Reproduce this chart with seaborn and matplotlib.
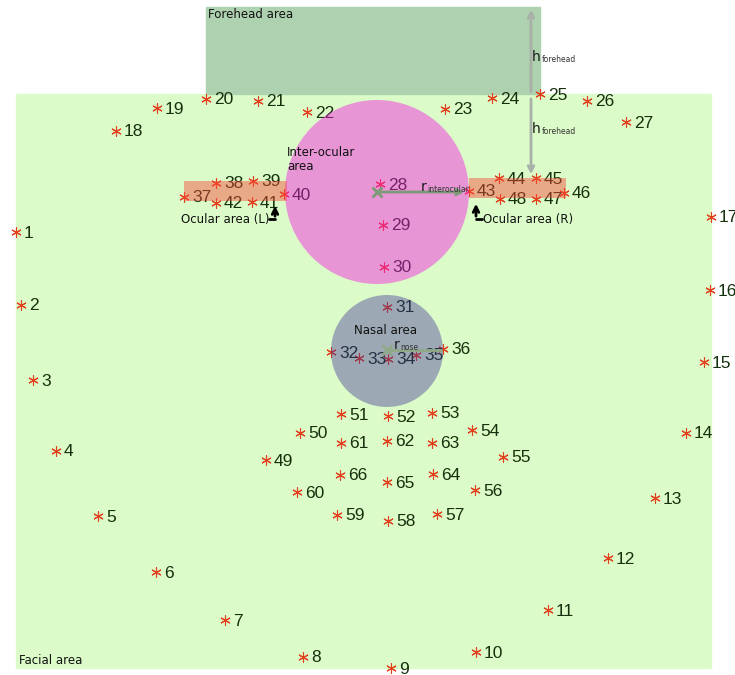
import matplotlib
matplotlib.use("Agg")
import matplotlib.pyplot as plt
from matplotlib.patches import Rectangle, Circle
import seaborn as sns
import pandas as pd

sns.set_style("white")

# landmark positions (image pixels, y down)
landmark_id = list(range(1, 67))
landmark_x = [16, 21, 33, 56, 98, 156, 225, 303, 391, 476, 548, 608, 655, 686, 704, 710, 711,
              116, 157, 206, 258, 307, 445, 492, 540, 587, 626,
              380, 383, 384, 387, 331, 359, 388, 416, 443,
              184, 216, 253, 284, 252, 216, 469, 499, 536, 564, 536, 500,
              266, 300, 341, 388, 432, 472, 503, 475, 437, 388, 337, 297,
              341, 387, 432, 433, 387, 340]
landmark_y = [232, 305, 380, 451, 516, 572, 620, 657, 668, 652, 610, 558, 498, 433, 362, 290, 217,
              131, 108, 99, 101, 112, 109, 98, 94, 101, 122,
              184, 225, 267, 307, 352, 358, 359, 355, 349,
              197, 183, 181, 194, 202, 203, 191, 178, 178, 193, 199, 199,
              460, 433, 414, 416, 413, 430, 457, 490, 514, 521, 515, 492,
              443, 441, 443, 474, 482, 475]

pts = pd.DataFrame({"id": landmark_id, "x": landmark_x, "y": landmark_y})

fig = plt.figure(figsize=(7.35, 6.75), dpi=100)
ax = fig.add_axes([0, 0, 1, 1])

# areas
ax.add_patch(Rectangle((16, 94), 695, 574, color="#dbfcc8", zorder=0))
ax.add_patch(Rectangle((206, 7), 334, 87, color="#aed1b0", zorder=0))

sns.scatterplot(data=pts, x="x", y="y", marker=(6, 2, 0), color="#e2401c",
                s=48, linewidth=0.8, ax=ax, zorder=2, legend=False)
for _, r in pts.iterrows():
    ax.text(r["x"] + 8, r["y"] + 1, str(r["id"]), fontsize=12.5, color="#15300d",
            va="center", ha="left", family=["Liberation Sans", "DejaVu Sans"], zorder=2)

# translucent region overlays
ax.add_patch(Circle((377, 192), 92, color="#fb0ee9", alpha=0.43, lw=0, zorder=3))
ax.add_patch(Circle((387, 351), 56, color="#3f2e97", alpha=0.40, lw=0, zorder=3))
ax.add_patch(Rectangle((184, 181), 103, 20, color="#f94538", alpha=0.45, lw=0, zorder=3))
ax.add_patch(Rectangle((469, 178), 97, 20, color="#f94538", alpha=0.45, lw=0, zorder=3))


def sub_label(x, y, main, sub, dx, size=10, subsize=5.5):
    # main letter plus small subscript, as two texts
    ax.text(x, y, main, fontsize=size, ha="left", va="center", color="#1a1a1a", zorder=5)
    ax.text(x + dx, y + 2, sub, fontsize=subsize, ha="left", va="center",
            color="#333333", zorder=5)


# radius arrows
ax.annotate("", xy=(467, 192), xytext=(377, 192),
            arrowprops=dict(arrowstyle="->", color="#7d9a78", lw=2), zorder=4)
ax.plot(377, 192, marker="x", color="#7d9a78", ms=7, mew=2, zorder=4)
sub_label(421, 187, "r", "interocular", 6)
ax.plot([387, 441], [350, 350], color="#8fa886", lw=2, zorder=4)
ax.plot(387, 350, marker="x", color="#8fa886", ms=7, mew=2, zorder=4)
sub_label(394, 345, "r", "nose", 6)

# forehead height arrows
ax.annotate("", xy=(531, 7), xytext=(531, 94),
            arrowprops=dict(arrowstyle="->", color="#a9b0a8", lw=2), zorder=4)
ax.annotate("", xy=(531, 177), xytext=(531, 96),
            arrowprops=dict(arrowstyle="->", color="#a9b0a8", lw=2), zorder=4)
sub_label(532, 57, "h", "forehead", 9.5)
sub_label(532, 129, "h", "forehead", 9.5)

# ocular bent arrows
ax.annotate("", xy=(275, 203), xytext=(275, 219),
            arrowprops=dict(arrowstyle="->", color="black", lw=2), zorder=4)
ax.plot([269, 275], [219, 219], color="black", lw=2, zorder=4)
ax.annotate("", xy=(476, 201), xytext=(476, 219),
            arrowprops=dict(arrowstyle="->", color="black", lw=2), zorder=4)
ax.plot([476, 482], [219, 219], color="black", lw=2, zorder=4)

# area labels
lab = dict(fontsize=8.5, color="#111111", family="DejaVu Sans", zorder=5)
ax.text(208, 15, "Forehead area", ha="left", va="center", **lab)
ax.text(19, 660, "Facial area", ha="left", va="center", **lab)
ax.text(287, 160, "Inter-ocular\narea", ha="left", va="center", linespacing=1.1, **lab)
ax.text(386, 330, "Nasal area", ha="center", va="center", **lab)
ax.text(181, 220, "Ocular area (L)", ha="left", va="center", **lab)
ax.text(483, 220, "Ocular area (R)", ha="left", va="center", **lab)

ax.set_xlim(0, 735)
ax.set_ylim(675, 0)
ax.set_axis_off()

fig.savefig("out.png", dpi=100)
